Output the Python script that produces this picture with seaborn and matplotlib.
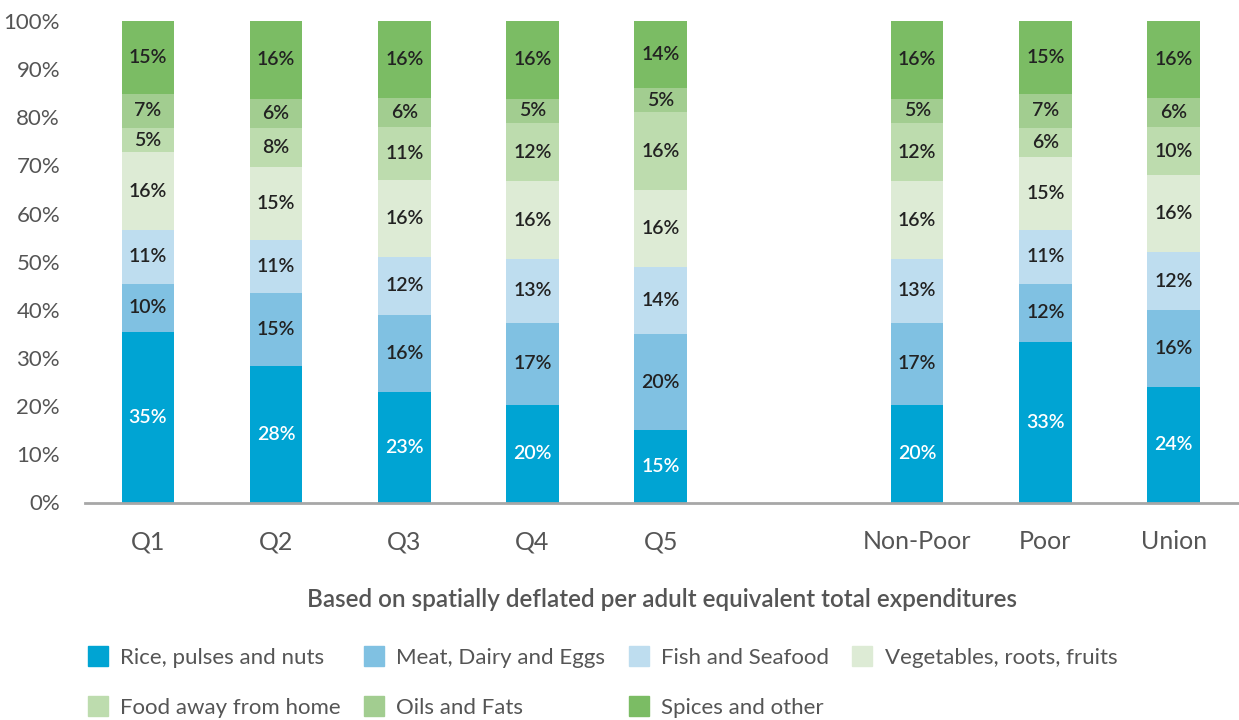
import matplotlib
matplotlib.use("Agg")
import matplotlib.pyplot as plt
import matplotlib.patches as mpatches
import seaborn as sns
import pandas as pd
import numpy as np

groups = ["Q1", "Q2", "Q3", "Q4", "Q5", "Non-Poor", "Poor", "Union"]
order = ["Q1", "Q2", "Q3", "Q4", "Q5", " ", "Non-Poor", "Poor", "Union"]

categories = ["Rice, pulses and nuts", "Meat, Dairy and Eggs", "Fish and Seafood",
              "Vegetables, roots, fruits", "Food away from home", "Oils and Fats",
              "Spices and other"]

rice = [35, 28, 23, 20, 15, 20, 33, 24]
meat = [10, 15, 16, 17, 20, 17, 12, 16]
fish = [11, 11, 12, 13, 14, 13, 11, 12]
veg = [16, 15, 16, 16, 16, 16, 15, 16]
food_away = [5, 8, 11, 12, 16, 12, 6, 10]
oils = [7, 6, 6, 5, 5, 5, 7, 6]
spices = [15, 16, 16, 16, 14, 16, 15, 16]

colors = ["#00A4D3", "#80C1E2", "#BEDDEF", "#DDEBD5", "#BDDCAE", "#A2CD90", "#7BBC64"]
label_colors = ["white", "#222222", "#222222", "#222222", "#222222", "#222222", "#222222"]

series = [rice, meat, fish, veg, food_away, oils, spices]
vals = np.array(series, dtype=float)           # (7, 8)
shares = vals / vals.sum(axis=0) * 100.0       # normalised to 100% stack
cum = np.cumsum(shares, axis=0)

sns.set_theme(style="white")
plt.rcParams["font.family"] = ["Lato", "DejaVu Sans"]

fig = plt.figure(figsize=(12.39, 7.2), dpi=100)
ax = fig.add_axes([85 / 1239, 1 - 502.5 / 720, (1239 - 85) / 1239, (502.5 - 21) / 720])

# draw from the top layer down so each bar covers the part above the previous layer
for i in range(len(categories) - 1, -1, -1):
    df = pd.DataFrame({"group": groups, "top": cum[i]})
    sns.barplot(data=df, x="group", y="top", order=order, color=colors[i],
                saturation=1, width=0.41, errorbar=None, ax=ax, zorder=2,
                linewidth=0, edgecolor="none")

# labels
for i in range(len(categories)):
    for j, g in enumerate(groups):
        xpos = order.index(g)
        ymid = cum[i, j] - shares[i, j] / 2
        ax.text(xpos, ymid, f"{int(vals[i, j])}%", ha="center", va="center",
                fontsize=14, fontweight="semibold", color=label_colors[i], zorder=3)

ax.set_xlim(-0.49, 8.51)
ax.set_ylim(0, 100)
ax.set_yticks(np.arange(0, 101, 10))
ax.set_yticklabels([f"{v}%" for v in range(0, 101, 10)])
ax.tick_params(axis="y", length=0, pad=18, labelsize=16, labelcolor="#555555")
ax.tick_params(axis="x", length=0, pad=20, labelsize=18, labelcolor="#555555")
for s in ["top", "right", "left"]:
    ax.spines[s].set_visible(False)
ax.spines["bottom"].set_color("#A7A7A7")
ax.spines["bottom"].set_linewidth(2)
ax.spines["bottom"].set_zorder(4)
ax.set_ylabel("")
ax.set_xlabel("Based on spatially deflated per adult equivalent total expenditures",
              fontsize=17.5, fontweight="semibold", color="#555555", labelpad=25)

handles = [mpatches.Patch(color=c, label=l) for c, l in zip(colors, categories)]
reorder = [0, 4, 1, 5, 2, 6, 3]
fig.legend([handles[k] for k in reorder], [categories[k] for k in reorder],
           ncol=4, loc="upper left", bbox_to_anchor=(88 / 1239, 1 - 646 / 720),
           frameon=False, fontsize=16, labelcolor="#555555",
           handlelength=0.9, handleheight=1.0, handletextpad=0.55,
           columnspacing=1.05, labelspacing=1.3, borderpad=0, borderaxespad=0)

fig.savefig("out.png", dpi=100)
